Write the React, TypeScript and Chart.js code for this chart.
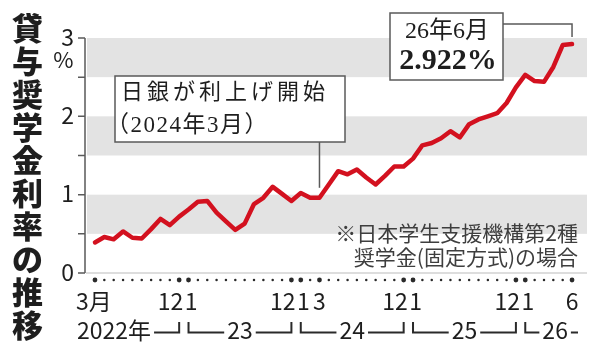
import React, { useEffect, useRef } from "react";
import { Chart, registerables } from "chart.js";

Chart.register(...registerables);

// ---- data ----
const months = [
  "2022-03", "2022-04", "2022-05", "2022-06", "2022-07", "2022-08", "2022-09", "2022-10", "2022-11", "2022-12",
  "2023-01", "2023-02", "2023-03", "2023-04", "2023-05", "2023-06", "2023-07", "2023-08", "2023-09", "2023-10", "2023-11", "2023-12",
  "2024-01", "2024-02", "2024-03", "2024-04", "2024-05", "2024-06", "2024-07", "2024-08", "2024-09", "2024-10", "2024-11", "2024-12",
  "2025-01", "2025-02", "2025-03", "2025-04", "2025-05", "2025-06", "2025-07", "2025-08", "2025-09", "2025-10", "2025-11", "2025-12",
  "2026-01", "2026-02", "2026-03", "2026-04", "2026-05", "2026-06",
];

const rates = [
  0.39, 0.46, 0.43, 0.53, 0.45, 0.44, 0.56, 0.69, 0.61, 0.72,
  0.81, 0.91, 0.92, 0.77, 0.66, 0.55, 0.63, 0.88, 0.96, 1.10, 1.01, 0.92,
  1.02, 0.96, 0.96, 1.13, 1.30, 1.26, 1.32, 1.22, 1.13, 1.24, 1.36, 1.36,
  1.46, 1.63, 1.66, 1.72, 1.81, 1.73, 1.90, 1.96, 2.00, 2.04, 2.17, 2.37,
  2.53, 2.45, 2.44, 2.63, 2.91, 2.922,
];

const titleText = "貸与奨学金利率の推移";
const yTickValues = [0, 0.5, 1, 1.5, 2, 2.5, 3];
const yLabelValues = [0, 1, 2, 3];
const yUnit = "%";
const bandRanges = [
  [0.5, 1],
  [1.5, 2],
  [2.5, 3],
];

const monthTickIdx = [0, 9, 10, 21, 22, 24, 33, 34, 45, 46, 51];
const monthTickText = ["3月", "12", "1", "12", "1", "3", "12", "1", "12", "1", "6"];

const yearText = ["2022年", "23", "24", "25", "26"];
const yearStartIdx = [0, 10, 22, 34, 46];
const yearEndIdx = [9, 21, 33, 45, -1];

const bojText = ["日銀が利上げ開始", "（2024年3月）"];
const bojIdx = 24;
const latestText = ["26年6月", "2.922%"];
const noteText = ["※日本学生支援機構第2種", "奨学金(固定方式)の場合"];

// ---- styles ----
const RED = "#d3111f";
const INK = "#1e1e1e";
const GRAY_LINE = "#5a5a5a";
const BAND = "#e3e3e3";
const SANS = '"Noto Sans CJK JP", "Noto Sans", sans-serif';
const SERIF = '"Liberation Serif", "DejaVu Serif", "Noto Sans CJK JP", serif';

const decoPlugin = {
  id: "deco",
  beforeDatasetsDraw(chart: any) {
    const { ctx, chartArea: a, scales } = chart;
    const y = scales.y;
    ctx.save();
    ctx.fillStyle = BAND;
    bandRanges.forEach(([lo, hi]) => {
      const t = y.getPixelForValue(hi);
      const b = y.getPixelForValue(lo);
      ctx.fillRect(a.left + 1, t, a.right - a.left - 1, b - t);
    });
    const y0 = y.getPixelForValue(0);
    ctx.strokeStyle = "#d2d2d2";
    ctx.lineWidth = 1.5;
    ctx.beginPath();
    ctx.moveTo(a.left, y0);
    ctx.lineTo(a.right, y0);
    ctx.stroke();
    ctx.restore();
  },
  afterDatasetsDraw(chart: any) {
    const { ctx, chartArea: a, scales } = chart;
    const x = scales.x;
    const y = scales.y;
    ctx.save();

    // ---- vertical title ----
    ctx.fillStyle = INK;
    ctx.font = `900 31px ${SANS}`;
    ctx.textAlign = "center";
    ctx.textBaseline = "middle";
    Array.from(titleText).forEach((ch, i) => {
      ctx.fillText(ch, 27.5, 28 + i * 33);
    });

    // ---- y axis ----
    const ax = a.left - 1;
    ctx.strokeStyle = GRAY_LINE;
    ctx.lineWidth = 1.5;
    ctx.beginPath();
    ctx.moveTo(ax, y.getPixelForValue(3));
    ctx.lineTo(ax, y.getPixelForValue(0));
    yTickValues.forEach((v) => {
      const py = y.getPixelForValue(v);
      ctx.moveTo(ax - 7, py);
      ctx.lineTo(ax, py);
    });
    ctx.stroke();

    ctx.fillStyle = INK;
    ctx.font = `23px ${SANS}`;
    ctx.textAlign = "right";
    ctx.textBaseline = "middle";
    yLabelValues.forEach((v) => {
      ctx.fillText(String(v), 74, y.getPixelForValue(v) - 1);
    });
    ctx.font = `22px ${SANS}`;
    ctx.textAlign = "center";
    ctx.fillText(yUnit, 63.5, 60);

    // ---- x axis dots ----
    const dotY = 280;
    ctx.fillStyle = "#2a2a2a";
    months.forEach((_, i) => {
      const big = monthTickIdx.includes(i);
      ctx.beginPath();
      ctx.arc(x.getPixelForValue(i), dotY, big ? 2.4 : 1.25, 0, Math.PI * 2);
      ctx.fill();
    });

    // ---- month tick labels ----
    ctx.fillStyle = INK;
    ctx.font = `23px ${SANS}`;
    ctx.textBaseline = "middle";
    monthTickIdx.forEach((idx, k) => {
      const px = x.getPixelForValue(idx);
      const t = monthTickText[k];
      if (monthTickIdx.includes(idx + 1)) {
        const mid = (px + x.getPixelForValue(idx + 1)) / 2;
        ctx.textAlign = "right";
        ctx.fillText(t, mid - 0.5, 301);
      } else if (monthTickIdx.includes(idx - 1)) {
        const mid = (px + x.getPixelForValue(idx - 1)) / 2;
        ctx.textAlign = "left";
        ctx.fillText(t, mid + 1, 301);
      } else {
        ctx.textAlign = "center";
        ctx.fillText(t, px + (k === 0 ? -1 : 0), 301);
      }
    });

    // ---- year brackets ----
    const rowY = 330;
    const lineY = 332.5;
    const tickTop = 322;
    ctx.strokeStyle = "#2a2a2a";
    ctx.lineWidth = 2;
    yearText.forEach((t, k) => {
      const sIdx = yearStartIdx[k];
      const eIdx = yearEndIdx[k];
      const sx = k === 0 ? null : x.getPixelForValue(sIdx);
      const ex = eIdx >= 0 ? x.getPixelForValue(eIdx) : a.right;
      const w = ctx.measureText(t).width;
      let tx0: number;
      if (k === 0) {
        tx0 = 77;
      } else {
        tx0 = (sx! + ex) / 2 - w / 2 + (eIdx < 0 ? -1 : 0);
      }
      ctx.textAlign = "left";
      ctx.fillText(t, tx0, rowY);
      ctx.beginPath();
      if (sx !== null) {
        ctx.moveTo(sx, tickTop);
        ctx.lineTo(sx, lineY);
        ctx.lineTo(tx0 - 3, lineY);
      }
      if (eIdx >= 0) {
        ctx.moveTo(tx0 + w + 3, lineY);
        ctx.lineTo(ex, lineY);
        ctx.lineTo(ex, tickTop);
      } else {
        ctx.moveTo(tx0 + w + 3, lineY);
        ctx.lineTo(ex - 9, lineY);
      }
      ctx.stroke();
    });

    // ---- footnote ----
    ctx.fillStyle = "#3e3e3e";
    ctx.font = `21px ${SANS}`;
    ctx.textAlign = "right";
    ctx.textBaseline = "middle";
    ctx.fillText(noteText[0], 578, 233);
    ctx.fillText(noteText[1], 578, 257);

    // ---- BOJ annotation ----
    const bx = x.getPixelForValue(bojIdx);
    const by = y.getPixelForValue(rates[bojIdx]);
    ctx.strokeStyle = GRAY_LINE;
    ctx.lineWidth = 1.5;
    ctx.beginPath();
    ctx.moveTo(bx, 142);
    ctx.lineTo(bx, by - 10);
    ctx.stroke();
    ctx.fillStyle = "#ffffff";
    ctx.fillRect(115, 76, 230, 66);
    ctx.strokeRect(115, 76, 230, 66);
    ctx.fillStyle = INK;
    ctx.textAlign = "left";
    ctx.font = `22px ${SERIF}`;
    (ctx as any).letterSpacing = "4px";
    ctx.fillText(bojText[0], 121, 93);
    (ctx as any).letterSpacing = "1.5px";
    ctx.font = `23px ${SERIF}`;
    ctx.fillText(bojText[1], 106, 126);
    (ctx as any).letterSpacing = "0px";

    // ---- latest annotation ----
    const last = rates.length - 1;
    const lx = x.getPixelForValue(last);
    const ly = y.getPixelForValue(rates[last]);
    ctx.strokeStyle = GRAY_LINE;
    ctx.beginPath();
    ctx.moveTo(503, 24);
    ctx.lineTo(lx, 24);
    ctx.lineTo(lx, ly - 7);
    ctx.stroke();
    ctx.fillStyle = "#ffffff";
    ctx.fillRect(390, 13, 113, 67);
    ctx.strokeRect(390, 13, 113, 67);
    ctx.fillStyle = INK;
    ctx.textAlign = "center";
    ctx.font = `24px ${SERIF}`;
    ctx.fillText(latestText[0], 447, 32);
    ctx.font = `bold 30px ${SERIF}`;
    ctx.fillText(latestText[1], 448, 61);

    ctx.restore();
  },
};

export default function App() {
  const ref = useRef<HTMLCanvasElement | null>(null);

  useEffect(() => {
    if (!ref.current) return;
    const chart = new Chart(ref.current, {
      type: "line",
      data: {
        labels: months,
        datasets: [
          {
            label: "貸与奨学金利率",
            data: rates.map((v, i) => ({ x: i, y: v })),
            borderColor: RED,
            borderWidth: 4.5,
            borderJoinStyle: "round",
            borderCapStyle: "round",
            pointRadius: 0,
            tension: 0,
            fill: false,
          },
        ],
      },
      options: {
        animation: false,
        responsive: false,
        devicePixelRatio: 1,
        layout: { padding: { left: 86, right: 13, top: 38, bottom: 80 } },
        plugins: {
          legend: { display: false },
          tooltip: { enabled: false },
          title: { display: false },
        },
        scales: {
          x: { type: "linear", display: false, min: -0.96, max: 52.6 },
          y: { type: "linear", display: false, min: 0, max: 3 },
        },
      },
      plugins: [decoPlugin],
    });
    return () => chart.destroy();
  }, []);

  return (
    <div style={{ position: "fixed", left: 0, top: 0, width: 600, height: 353, background: "#fff" }}>
      <canvas ref={ref} width={600} height={353} style={{ width: 600, height: 353, display: "block" }} />
    </div>
  );
}
